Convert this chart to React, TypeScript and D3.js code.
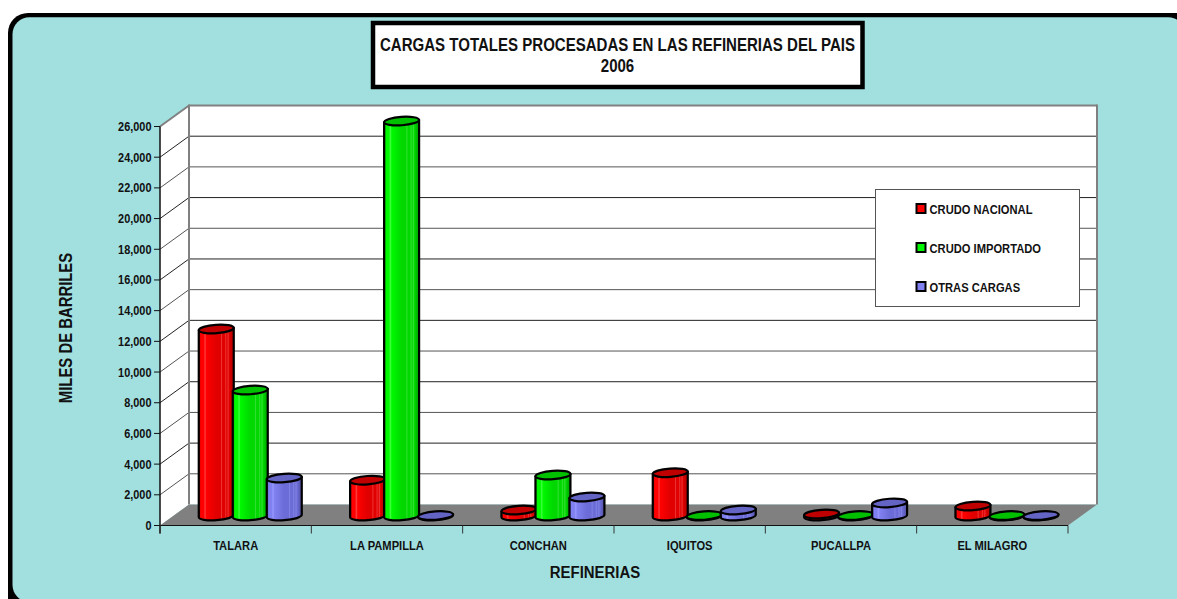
import React from "react";
import * as d3 from "d3";

const categories = ["TALARA", "LA PAMPILLA", "CONCHAN", "IQUITOS", "PUCALLPA", "EL MILAGRO"];
const seriesNames = ["CRUDO NACIONAL", "CRUDO IMPORTADO", "OTRAS CARGAS"];
const crudoNacional = [12185, 2335, 390, 2820, 130, 650];
const crudoImportado = [8205, 25735, 2670, 30, 30, 30];
const otrasCargas = [2475, 30, 1240, 390, 850, 30];
const seriesValues = [crudoNacional, crudoImportado, otrasCargas];
const yTicks = d3.range(0, 26001, 2000);

const colors = [
  { main: "#ff0000", mid: "#e00000", dark: "#a80000", top: "#c00000", hi: "#ff3c3c", soft: "#ec3030" },
  { main: "#00f800", mid: "#00d800", dark: "#009800", top: "#00c000", hi: "#40ff40", soft: "#30e030" },
  { main: "#8080f0", mid: "#6c6cd8", dark: "#50509c", top: "#6464c4", hi: "#9898ff", soft: "#8080e0" },
];
const stripeStops = [
  [0, "dark"], [0.06, "main"], [0.14, "main"], [0.18, "hi"], [0.22, "main"], [0.5, "mid"],
  [0.62, "mid"], [0.65, "soft"], [0.68, "mid"], [0.74, "mid"], [0.77, "soft"], [0.8, "mid"],
  [0.84, "soft"], [0.87, "mid"], [1, "dark"],
] as const;

const FONT = "'Liberation Sans', Arial, sans-serif";
const x = d3.scaleLinear().domain([0, 6]).range([160, 1068]);
const y = d3.scaleLinear().domain([0, 26000]).range([525.5, 126.5]);
const DX = 29, DY = -21;
const BAR_DX = 14.6, BAR_DY = -9.5, STEP = 34, RX = 17.5, RY = 4.2, TILT = -4;
const tiltDy = Math.tan((-TILT * Math.PI) / 180);

function T({ x, y, size, sx = 0.86, anchor = "middle", rotate = 0, children }: any) {
  return (
    <text transform={`translate(${x},${y}) rotate(${rotate}) scale(${sx},1)`} textAnchor={anchor}
      fontSize={size} fontWeight={700} fill="#111">{children}</text>
  );
}

function Cylinder({ cx, base, top, c, idx }: any) {
  const yl = (v: number, s: number) => v + s * RX * tiltDy;
  const d = `M${cx - RX},${yl(top, 1)} L${cx - RX},${yl(base, 1)} A${RX},${RY} ${TILT} 0 0 ${cx + RX},${yl(base, -1)} L${cx + RX},${yl(top, -1)} Z`;
  return (
    <g>
      <path d={d} fill={`url(#cyl${idx})`} stroke="#000" strokeWidth={2.2} strokeLinejoin="round" />
      <ellipse cx={cx} cy={top} rx={RX} ry={RY} transform={`rotate(${TILT} ${cx} ${top})`}
        fill={c.top} stroke="#000" strokeWidth={2.2} />
    </g>
  );
}

export default function App() {
  const wallX0 = x(0) + DX, wallX1 = x(6) + DX;
  return (
    <svg width={1177} height={599} style={{ position: "absolute", left: 0, top: 0, background: "#fff" }} fontFamily={FONT}>
      <defs>
        {colors.map((c: any, i) => (
          <linearGradient id={`cyl${i}`} key={i} x1="0" x2="1" y1="0" y2="0">
            {stripeStops.map(([o, k], j) => <stop key={j} offset={o} stopColor={c[k]} />)}
          </linearGradient>
        ))}
      </defs>

      <rect x={8} y={13} width={1200} height={610} rx={20} fill="#000" />
      <rect x={12.5} y={17.25} width={1172.5} height={584.75} rx={17} fill="#a2e0e0" />

      {/* title */}
      <rect x={373} y={23} width={489.5} height={64} fill="#fff" stroke="#000" strokeWidth={4.5} />
      <text x={617.5} y={50.5} textAnchor="middle" fontSize={17.5} fontWeight={700} fill="#111" textLength={475} lengthAdjust="spacingAndGlyphs">
        CARGAS TOTALES PROCESADAS EN LAS REFINERIAS DEL PAIS
      </text>
      <T x={617.5} y={72} size={17.5}>2006</T>

      {/* walls */}
      <polygon points={`${x(0)},${y(0)} ${wallX0},${y(0) + DY} ${wallX0},${y(26000) + DY} ${x(0)},${y(26000)}`} fill="#fff" />
      <rect x={wallX0} y={y(26000) + DY} width={wallX1 - wallX0} height={y(0) - y(26000)} fill="#fff" />
      <polygon points={`${x(0)},${y(0)} ${wallX0},${y(0) + DY} ${wallX1},${y(0) + DY} ${x(6)},${y(0)}`} fill="#808080" />

      {yTicks.slice(1).map((t, i) => (
        <g key={t} fill="none" stroke={i === yTicks.length - 2 ? "#808080" : i % 2 ? "#222" : "#555"} strokeWidth={i === yTicks.length - 2 ? 2 : 1}>
          <line x1={x(0)} y1={y(t)} x2={wallX0} y2={y(t) + DY} />
          <line x1={wallX0} y1={y(t) + DY} x2={wallX1} y2={y(t) + DY} />
        </g>
      ))}
      <line x1={wallX0} y1={y(26000) + DY - 1} x2={wallX0} y2={y(0) + DY} stroke="#808080" strokeWidth={2} />
      <line x1={wallX1} y1={y(26000) + DY - 1} x2={wallX1} y2={y(0) + DY} stroke="#808080" strokeWidth={2} />

      {/* axes */}
      <line x1={x(0)} y1={y(26000)} x2={x(0)} y2={y(0) + 8} stroke="#111" strokeWidth={1.5} />
      <line x1={x(0)} y1={y(0)} x2={x(6)} y2={y(0)} stroke="#111" strokeWidth={1} />
      {yTicks.map((t) => (
        <g key={t}>
          <line x1={x(0) - 6} x2={x(0)} y1={y(t)} y2={y(t)} stroke="#111" />
          <T x={x(0) - 8.5} y={y(t) + 4.5} size={13} sx={0.84} anchor="end">{d3.format(",")(t)}</T>
        </g>
      ))}
      {d3.range(0, 7).map((i) => (
        <line key={i} x1={x(i)} x2={x(i)} y1={y(0)} y2={y(0) + 8} stroke="#333" />
      ))}
      {categories.map((c, i) => (
        <T key={c} x={x(i + 0.5)} y={550} size={13}>{c}</T>
      ))}
      <T x={595} y={578} size={17} sx={0.88}>REFINERIAS</T>
      <T x={71.5} y={328} size={17.5} sx={0.85} rotate={-90}>MILES DE BARRILES</T>

      {/* bars */}
      {categories.map((c, i) => (
        <g key={c}>
          {seriesValues.map((vals, s) => (
            <Cylinder key={s} idx={s} c={colors[s]}
              cx={x(i + 0.5) + BAR_DX + (s - 1) * STEP}
              base={y(0) + BAR_DY}
              top={y(vals[i]) + BAR_DY} />
          ))}
        </g>
      ))}

      {/* legend */}
      <rect x={875.5} y={189.5} width={204} height={117} fill="#fff" stroke="#555" strokeWidth={1} />
      {seriesNames.map((n, i) => (
        <g key={n}>
          <rect x={916.5} y={204 + i * 39} width={9} height={9} fill={colors[i].main} stroke="#000" strokeWidth={2} />
          <T x={929.5} y={214 + i * 39} size={13} anchor="start">{n}</T>
        </g>
      ))}
    </svg>
  );
}
